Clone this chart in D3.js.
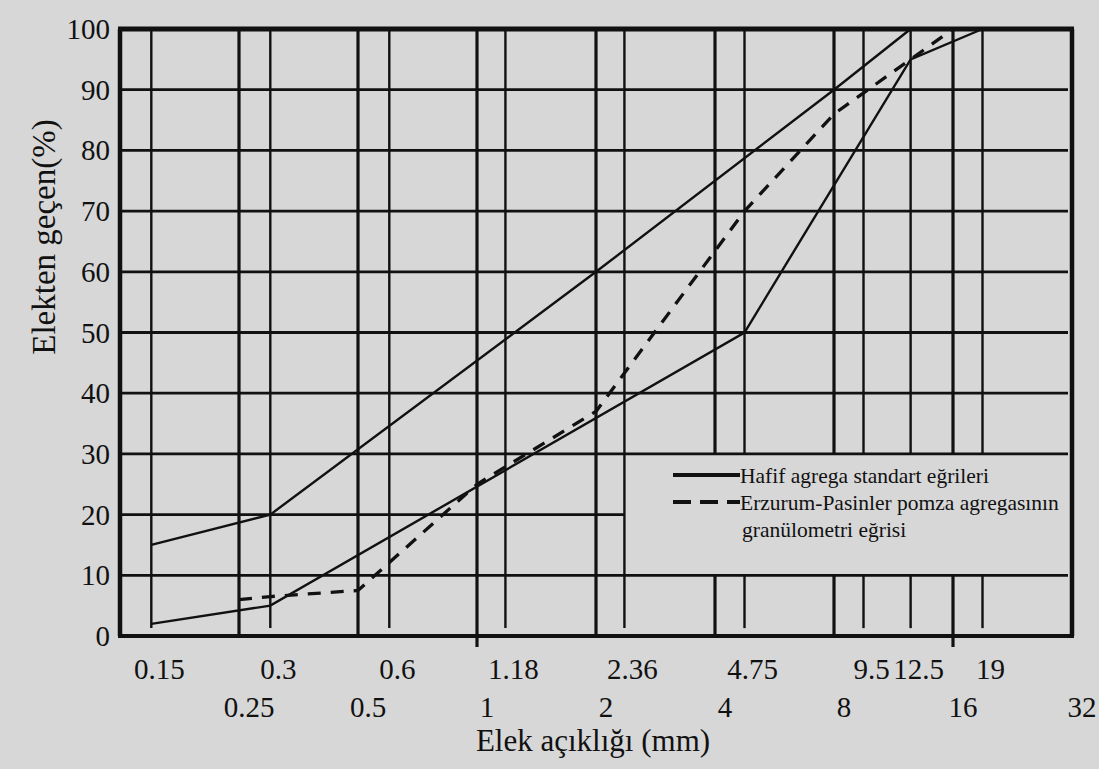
<!DOCTYPE html>
<html>
<head>
<meta charset="utf-8">
<script src="https://cdn.jsdelivr.net/npm/d3@7/dist/d3.min.js"></script>
<style>
  html, body { margin: 0; padding: 0; background: #d7d7d7; }
  svg { display: block; }
  text { font-family: "Liberation Serif", "Times New Roman", serif; fill: #111; }
</style>
</head>
<body>
<div id="chart"></div>
<script>
// sieve openings (mm)
const sieveMajor = [0.25, 0.5, 1, 2, 4, 8, 16, 32];
const sieveMinor = [0.15, 0.3, 0.6, 1.18, 2.36, 4.75, 9.5, 12.5, 19];
const majorLabels = ['0.25', '0.5', '1', '2', '4', '8', '16', '32'];
const minorLabels = ['0.15', '0.3', '0.6', '1.18', '2.36', '4.75', '9.5', '12.5', '19'];
const yTicks = [0, 10, 20, 30, 40, 50, 60, 70, 80, 90, 100];

// standard envelope (upper / lower) and pumice aggregate curve
const upperSize = [0.15, 0.3, 2, 8, 12.5];
const upperPass = [15, 20, 60, 90, 100];
const lowerSize = [0.15, 0.3, 4.75, 12.5, 19];
const lowerPass = [2, 5, 50, 95, 100];
const pumiceSize = [0.25, 0.3, 0.5, 1, 2, 4.75, 8, 12.5, 16];
const pumicePass = [6, 6.5, 7.5, 25, 37, 70, 86, 95, 100];

const legendLabels = ['Hafif agrega standart eğrileri',
  'Erzurum-Pasinler pomza agregasının', 'granülometri eğrisi'];

const width = 1099, height = 769;
const svg = d3.select('#chart').append('svg')
  .attr('width', width).attr('height', height);

const x = d3.scaleLog().base(2).domain([0.125, 32]).range([120, 1072]);
const y = d3.scaleLinear().domain([0, 100]).range([636, 29]);
const ink = '#111';

const grid = svg.append('g');

// horizontal grid
yTicks.filter(v => v > 0 && v < 100).forEach(v => {
  grid.append('line')
    .attr('x1', x(0.125)).attr('x2', v === 20 ? x(2.36) : x(32) - 4)
    .attr('y1', y(v)).attr('y2', y(v))
    .attr('stroke', ink).attr('stroke-width', 2.8);
});

// vertical grid (cut where the legend sits)
const legendLeft = x(2.36);
const allSieves = sieveMajor.filter(d => d < 32).concat(sieveMinor);
allSieves.forEach(v => {
  const major = sieveMajor.includes(v);
  let bottom = major ? y(0) : y(1.3);
  if (v === 1 || v === 16) bottom = y(0) + 11;
  const segs = x(v) > legendLeft + 2 ? [[y(100), y(30)], [y(10), bottom]] : [[y(100), bottom]];
  segs.forEach(s => {
    grid.append('line')
      .attr('x1', x(v)).attr('x2', x(v))
      .attr('y1', s[0]).attr('y2', s[1])
      .attr('stroke', ink).attr('stroke-width', major ? 3.2 : 2.4);
  });
});

// frame
svg.append('line').attr('x1', x(0.125) - 2).attr('x2', x(32) + 2).attr('y1', y(100)).attr('y2', y(100))
  .attr('stroke', ink).attr('stroke-width', 5);
svg.append('line').attr('x1', x(0.125) - 2).attr('x2', x(32) + 2).attr('y1', y(0)).attr('y2', y(0))
  .attr('stroke', ink).attr('stroke-width', 4);
svg.append('line').attr('x1', x(0.125)).attr('x2', x(0.125)).attr('y1', y(100)).attr('y2', y(0))
  .attr('stroke', ink).attr('stroke-width', 4.5);
svg.append('line').attr('x1', x(32)).attr('x2', x(32)).attr('y1', y(100)).attr('y2', y(0))
  .attr('stroke', ink).attr('stroke-width', 4.5);

// curves
const line = d3.line().x(d => x(d[0])).y(d => y(d[1]));
svg.append('path').attr('d', line(d3.zip(upperSize, upperPass)))
  .attr('fill', 'none').attr('stroke', ink).attr('stroke-width', 2.4);
svg.append('path').attr('d', line(d3.zip(lowerSize, lowerPass)))
  .attr('fill', 'none').attr('stroke', ink).attr('stroke-width', 2.4);
svg.append('path').attr('d', line(d3.zip(pumiceSize, pumicePass)))
  .attr('fill', 'none').attr('stroke', ink).attr('stroke-width', 3.3)
  .attr('stroke-dasharray', '13,10');

// y labels
svg.append('g').selectAll('text').data(yTicks).enter().append('text')
  .attr('x', 110).attr('y', d => y(d) + 10)
  .attr('text-anchor', 'end').attr('font-size', 29)
  .text(d => d);

// x labels, two rows
svg.append('g').selectAll('text').data(sieveMinor).enter().append('text')
  .attr('x', d => x(d) + 8).attr('y', 679)
  .attr('text-anchor', 'middle').attr('font-size', 29)
  .text((d, i) => minorLabels[i]);
svg.append('g').selectAll('text').data(sieveMajor).enter().append('text')
  .attr('x', d => x(d) + 10).attr('y', 717)
  .attr('text-anchor', 'middle').attr('font-size', 29)
  .text((d, i) => majorLabels[i]);

// axis titles
svg.append('text').attr('x', 593).attr('y', 751)
  .attr('text-anchor', 'middle').attr('font-size', 31)
  .text('Elek açıklığı (mm)');
svg.append('text').attr('transform', 'translate(55,237) rotate(-90)')
  .attr('text-anchor', 'middle').attr('font-size', 33)
  .text('Elekten geçen(%)');

// legend
const lg = svg.append('g');
lg.append('line').attr('x1', 673).attr('x2', 740).attr('y1', 475).attr('y2', 475)
  .attr('stroke', ink).attr('stroke-width', 4);
lg.append('line').attr('x1', 673).attr('x2', 740).attr('y1', 502).attr('y2', 502)
  .attr('stroke', ink).attr('stroke-width', 4).attr('stroke-dasharray', '18,9');
lg.selectAll('text.l').data(legendLabels).enter().append('text')
  .attr('x', (d, i) => i === 2 ? 742 : 740)
  .attr('y', (d, i) => 483 + i * 27)
  .attr('font-size', 21.5)
  .text(d => d);
</script>
</body>
</html>
